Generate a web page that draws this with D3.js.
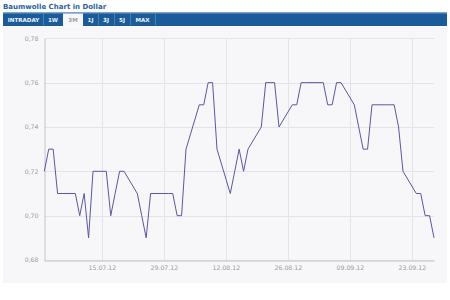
<!DOCTYPE html>
<html><head><meta charset="utf-8">
<script src="https://cdn.jsdelivr.net/npm/d3@7"></script>
<style>
body{margin:0;background:#fff;}
svg{display:block;font-family:"DejaVu Sans",Verdana,sans-serif;}
</style></head>
<body>
<script>
const dates = ["02.07.12","03.07.12","04.07.12","05.07.12","06.07.12","09.07.12","10.07.12","11.07.12","12.07.12","13.07.12",
"16.07.12","17.07.12","18.07.12","19.07.12","20.07.12","23.07.12","24.07.12","25.07.12","26.07.12","27.07.12","30.07.12","31.07.12",
"01.08.12","02.08.12","03.08.12","06.08.12","07.08.12","08.08.12","09.08.12","10.08.12","13.08.12","14.08.12","15.08.12","16.08.12","17.08.12",
"20.08.12","21.08.12","22.08.12","23.08.12","24.08.12","27.08.12","28.08.12","29.08.12","30.08.12","31.08.12",
"03.09.12","04.09.12","05.09.12","06.09.12","07.09.12","10.09.12","11.09.12","12.09.12","13.09.12","14.09.12",
"17.09.12","18.09.12","19.09.12","20.09.12","21.09.12","24.09.12","25.09.12","26.09.12","27.09.12","28.09.12"];
const values = [0.72,0.73,0.73,0.71,0.71,0.71,0.70,0.71,0.69,0.72,
0.72,0.70,0.71,0.72,0.72,0.71,0.70,0.69,0.71,0.71,0.71,0.71,
0.70,0.70,0.73,0.75,0.75,0.76,0.76,0.73,0.71,0.72,0.73,0.72,0.73,
0.74,0.76,0.76,0.76,0.74,0.75,0.75,0.76,0.76,0.76,
0.76,0.75,0.75,0.76,0.76,0.75,0.74,0.73,0.73,0.75,
0.75,0.75,0.75,0.74,0.72,0.71,0.71,0.70,0.70,0.69];
const xTickLabels = ["15.07.12","29.07.12","12.08.12","26.08.12","09.09.12","23.09.12"];
const yTicks = [0.68,0.70,0.72,0.74,0.76,0.78];
const tabs = ["INTRADAY","1W","3M","1J","3J","5J","MAX"];
const activeTab = "3M";
const title = "Baumwolle Chart in Dollar";

const parse = d3.timeParse("%d.%m.%y");
const data = dates.map((d,i)=>({date:parse(d), value:values[i]}));

const W=450,H=300;
const svg = d3.select("body").append("svg").attr("width",W).attr("height",H);

// title
svg.append("text").attr("x",3).attr("y",9).text(title)
  .attr("font-size",7).attr("font-weight","bold").attr("fill","#2a64a0");

// tab bar
svg.append("rect").attr("x",3).attr("y",12.5).attr("width",444).attr("height",13.5).attr("fill","#1b5b99");
svg.append("rect").attr("x",3).attr("y",12.5).attr("width",444).attr("height",1).attr("fill","#6f9cc9");
// tabs
const tabX = [[4,43],[43,63],[63,83],[83,98],[98,114],[114,130],[130,155]];
tabs.forEach((t,i)=>{
  const [a,b]=tabX[i];
  if(t===activeTab){
    svg.append("rect").attr("x",a).attr("y",13.5).attr("width",b-a).attr("height",13).attr("fill","#f7f7f9");
  } else {
    svg.append("line").attr("x1",b+0.5).attr("x2",b+0.5).attr("y1",14).attr("y2",25.5)
      .attr("stroke","#4a7fb5").attr("stroke-width",1);
  }
  svg.append("text").attr("x",(a+b)/2).attr("y",22).attr("text-anchor","middle")
    .attr("font-size",5.6).attr("font-weight","bold")
    .attr("fill", t===activeTab ? "#a0a0a0" : "#eef3fa").text(t);
});

// panel
svg.append("rect").attr("x",3).attr("y",27).attr("width",444).attr("height",256).attr("fill","#f7f7f9");

const x = d3.scaleTime().domain(d3.extent(data,d=>d.date)).range([44.3,434]);
const y = d3.scaleLinear().domain([0.68,0.78]).range([260,38.3]);

const g = svg.append("g");
// horizontal grid
g.selectAll(".hg").data(yTicks).join("line")
  .attr("x1",44.3).attr("x2",434).attr("y1",d=>Math.round(y(d))+0.5).attr("y2",d=>Math.round(y(d))+0.5)
  .attr("stroke","#e4e4e8").attr("stroke-width",1);
// vertical grid
const xTickDates = xTickLabels.map(parse);
g.selectAll(".vg").data(xTickDates).join("line")
  .attr("x1",d=>Math.round(x(d))+0.5).attr("x2",d=>Math.round(x(d))+0.5).attr("y1",38).attr("y2",260)
  .attr("stroke","#e4e4e8").attr("stroke-width",1);

// axes
const yAxis = d3.axisLeft(y).tickValues(yTicks).tickSize(0).tickPadding(6)
  .tickFormat(d=>d3.format(".2f")(d).replace(".",","));
const ya = svg.append("g").attr("transform","translate(44.5,0)").call(yAxis);
ya.select(".domain").attr("stroke","#c4c4c8");
ya.selectAll("text").attr("font-size",6.2).attr("fill","#999999").attr("font-family","DejaVu Sans, sans-serif");

const xAxis = d3.axisBottom(x).tickValues(xTickDates).tickSize(0).tickPadding(5)
  .tickFormat(d3.timeFormat("%d.%m.%y"));
const xa = svg.append("g").attr("transform","translate(0,260.5)").call(xAxis);
xa.select(".domain").attr("stroke","#c4c4c8");
xa.selectAll("text").attr("font-size",6.2).attr("fill","#999999").attr("font-family","DejaVu Sans, sans-serif");

// line
svg.append("path").datum(data)
  .attr("d", d3.line().x(d=>x(d.date)).y(d=>y(d.value)))
  .attr("fill","none").attr("stroke","#5a57a0").attr("stroke-width",1);
</script>
</body></html>
